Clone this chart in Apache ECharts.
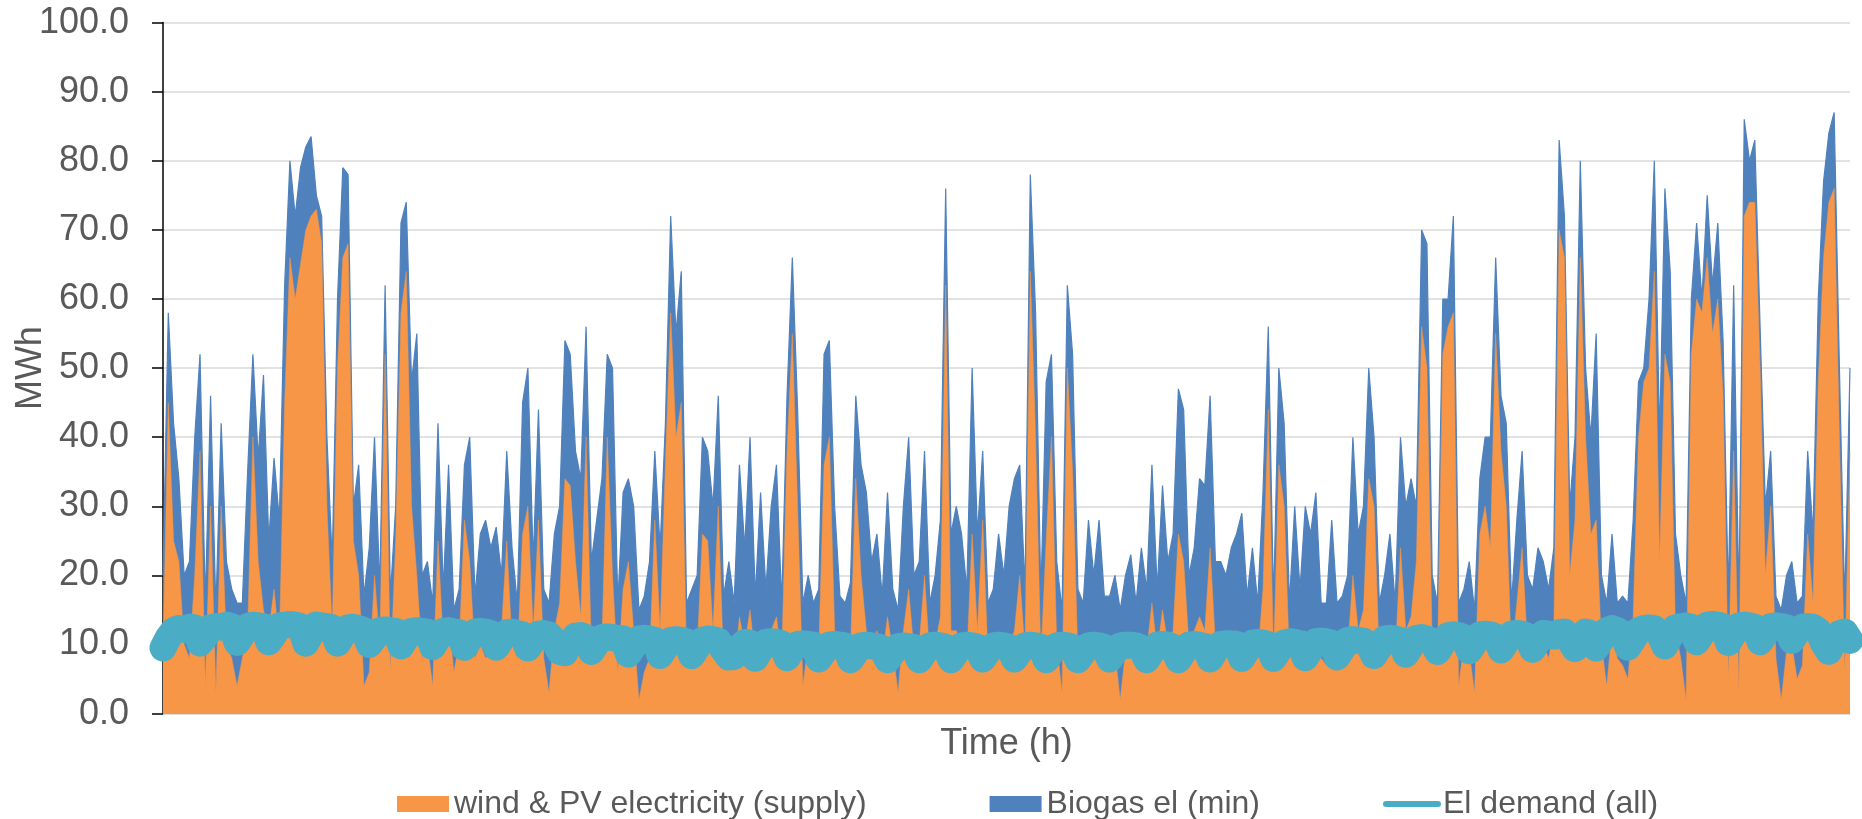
<!DOCTYPE html>
<html>
<head>
<meta charset="utf-8">
<script src="https://cdn.jsdelivr.net/npm/echarts@6/dist/echarts.min.js"></script>
<style>
html,body{margin:0;padding:0;background:#fff;}
#chart{width:1862px;height:819px;}
</style>
</head>
<body>
<div id="chart"></div>
<script>
// wind & PV electricity (supply), MWh – sampled roughly every ~27 h across the year
const supply = [
 9,45,25,22,10,8,20,38,4,30,3,30,10,8,4,8,12,40,22,15,12,18,10,45,66,60,65,70,72,73,68,30,12,50,66,68,25,20,4,6,
 20,10,52,6,25,58,64,30,20,8,10,4,25,10,14,6,10,28,22,8,10,8,9,10,12,25,10,8,26,30,12,28,8,3,12,16,34,33,22,14,
 40,9,12,10,40,20,6,18,22,12,2,6,8,28,12,36,58,40,45,8,8,9,26,25,12,30,7,10,6,14,10,15,8,12,8,12,14,8,38,55,
 30,4,10,8,9,36,40,12,8,6,9,34,20,12,10,12,8,14,9,3,12,18,9,10,20,8,10,14,62,12,12,10,8,26,12,28,8,9,10,9,
 10,12,20,9,64,40,8,25,40,10,3,50,35,8,6,10,9,10,8,9,9,2,9,10,8,10,9,16,9,15,10,12,26,22,10,12,14,12,24,10,
 10,10,10,12,10,8,10,8,18,44,8,36,30,8,12,9,12,10,12,8,7,10,8,8,9,20,12,15,34,30,8,9,12,8,24,12,14,22,56,50,
 10,8,52,56,58,4,10,9,3,26,30,24,55,38,30,8,16,24,10,9,12,10,8,12,70,66,20,28,66,40,26,28,10,4,12,8,7,5,14,40,
 48,50,64,22,52,48,12,8,2,52,60,58,66,55,60,46,5,38,3,72,74,74,50,20,30,8,2,9,10,5,7,26,16,48,66,74,76,40,6,38
];
// Biogas el (min): visible top of the blue area (supply + biogas), MWh
const biogasTop = [
 20,58,42,34,20,22,40,52,16,46,15,42,22,18,16,16,35,52,37,49,25,37,28,62,80,72,79,82,83.5,75,72,40,22,60,79,78,30,36,17,24,
 40,18,62,17,30,71,74,48,55,20,22,16,42,18,36,15,18,36,40,17,26,28,24,27,20,38,24,16,45,50,22,44,18,16,26,30,54,52,38,34,
 56,22,28,34,52,50,16,32,34,30,15,17,22,38,24,42,72,55,64,16,18,20,40,38,30,46,17,22,16,36,24,40,17,32,18,30,36,16,46,66,
 44,16,20,16,18,52,54,30,17,16,19,46,36,32,22,26,17,32,18,15,30,40,20,22,38,16,20,28,76,26,30,26,18,50,26,38,16,18,26,20,
 30,34,36,18,78,58,17,48,52,22,15,62,52,18,16,28,20,28,17,17,20,15,20,23,16,24,18,36,18,33,22,26,47,44,20,24,34,33,46,22,
 22,20,24,26,29,17,24,16,32,56,16,50,42,16,30,18,30,26,32,16,16,28,16,17,20,40,26,30,50,40,16,20,26,16,40,30,34,30,70,68,
 20,16,60,60,72,16,18,22,15,34,40,40,66,46,42,16,28,38,20,18,24,22,18,24,83,72,30,40,80,50,40,55,20,16,26,16,17,16,28,48,
 50,60,80,40,76,64,26,20,16,60,71,60,75,62,71,54,17,62,16,86,80,83,56,30,38,17,15,20,22,16,17,38,26,60,77,84,87,50,16,50
];
// El demand (all), MWh
const demand = [
 9.5,11,12,12.3,12.2,12.5,12.4,10.2,11.2,12.4,12.6,12.5,12.8,12.6,10.3,11.5,12.6,12.8,12.7,12.6,10.4,11.5,12.7,12.8,12.9,12.8,12.6,10.2,11.6,12.8,12.7,12.6,12.4,10.2,11.4,12.4,12.5,12.3,12.0,10.0,
 11.0,12.0,12.1,12.0,11.9,9.8,11.0,11.9,12.0,11.9,11.8,9.7,10.9,11.9,12.0,11.8,11.7,9.6,10.8,11.8,11.9,11.8,11.6,9.6,10.8,11.7,11.8,11.6,11.4,9.5,10.6,11.5,11.6,11.4,10.5,9.0,8.8,10.2,11.2,11.3,
 11.0,9.0,10.2,11.0,11.1,11.0,10.9,10.8,8.6,9.8,10.8,10.9,10.8,10.6,8.4,9.6,10.6,10.7,10.6,10.4,8.4,9.6,10.6,10.8,10.7,10.5,9.2,8.2,8.3,9.6,10.3,10.2,8.0,9.3,10.3,10.4,10.3,10.1,8.1,9.3,
 10.0,10.1,10.0,9.9,7.9,9.0,9.9,10.0,9.9,9.8,7.8,8.9,9.8,9.9,9.8,9.7,9.4,7.8,8.9,9.7,9.8,9.7,9.6,7.8,8.9,9.8,9.9,9.8,9.6,7.8,8.9,9.8,9.9,9.8,9.6,7.9,9.0,9.8,9.9,9.8,
 9.6,7.9,9.0,9.8,9.9,9.8,9.6,7.8,8.9,9.8,9.9,9.8,9.6,7.8,8.9,9.8,9.9,9.8,9.6,7.9,9.0,9.8,9.9,9.9,9.8,9.5,7.8,9.0,9.9,10.0,9.9,9.6,7.8,9.0,9.9,10.0,9.9,9.7,7.9,9.1,
 10.0,10.1,10.1,10.0,8.0,9.2,10.2,10.3,10.2,10.0,8.0,9.2,10.2,10.4,10.3,10.1,8.1,9.3,10.4,10.5,10.4,10.2,8.2,9.4,10.6,10.7,10.6,10.5,10.0,8.4,9.6,10.8,10.9,10.8,10.6,8.6,9.8,10.9,11.0,10.8,
 10.5,9.0,10.2,11.3,11.4,11.3,11.0,9.1,10.3,11.4,11.5,11.4,11.1,9.2,10.4,11.5,11.6,11.5,11.2,9.3,10.5,11.6,11.5,11.2,11.7,11.8,10.6,9.4,11.0,11.8,11.6,9.5,10.8,12.0,12.3,12.0,11.6,9.6,10.8,12.0,
 12.3,12.4,12.3,11.5,9.8,11.2,12.4,12.6,12.7,12.5,10.4,11.6,12.8,12.9,12.8,12.6,10.3,11.6,12.7,12.8,12.7,12.5,10.4,11.6,12.6,12.7,12.6,12.4,10.6,11.8,12.5,12.6,12.5,12.0,10.2,9.0,10.8,11.6,11.8,10.6
];
const yTicks = {min: 0, max: 100, interval: 10};
const names = ['wind & PV electricity (supply)', 'Biogas el (min)', 'El demand (all)'];
const timeIndex = supply.map((_, i) => i);

const ORANGE = '#F79646', BLUE = '#4F81BD', TEAL = '#4BACC6';
const FONT = 'Liberation Sans, Arial, sans-serif';

const chart = echarts.init(document.getElementById('chart'), null, {renderer: 'canvas'});
chart.setOption({
  animation: false,
  backgroundColor: '#fff',
  grid: {left: 163, right: 12, top: 22.6, bottom: 105.4, outerBoundsMode: 'none'},
  legend: {
    left: 397, top: 788, padding: 0,
    itemWidth: 52, itemHeight: 16, itemGap: 123,
    textStyle: {fontFamily: FONT, fontSize: 32, color: '#595959'},
    data: [
      {name: names[0], icon: 'rect'},
      {name: names[1], icon: 'rect'},
      {name: names[2], itemStyle: {opacity: 0}, lineStyle: {width: 6, cap: 'round', color: TEAL}}
    ]
  },
  xAxis: {
    type: 'category', data: timeIndex, boundaryGap: false,
    name: 'Time (h)', nameLocation: 'middle', nameGap: 12,
    nameTextStyle: {fontFamily: FONT, fontSize: 36, color: '#595959', verticalAlign: 'top'},
    axisLine: {show: true, lineStyle: {color: '#D9D9D9', width: 1.5}},
    axisTick: {show: false}, axisLabel: {show: false}, splitLine: {show: false}
  },
  yAxis: {
    type: 'value', min: yTicks.min, max: yTicks.max, interval: yTicks.interval,
    name: 'MWh', nameLocation: 'middle', nameGap: 114, nameRotate: 90, nameMoveOverlap: false,
    nameTextStyle: {fontFamily: FONT, fontSize: 36, color: '#595959'},
    axisLine: {show: true, lineStyle: {color: '#000', width: 1.5}},
    axisTick: {show: true, inside: false, length: 11, lineStyle: {color: '#000', width: 1.5}},
    axisLabel: {fontFamily: FONT, fontSize: 36, color: '#595959', margin: 34,
      formatter: v => v.toFixed(1)},
    splitLine: {show: true, lineStyle: {color: '#D9D9D9', width: 1.5}}
  },
  series: [
    {
      name: names[1], type: 'line', data: biogasTop, showSymbol: false, symbol: 'none',
      itemStyle: {color: BLUE},
      lineStyle: {color: BLUE, width: 1.2}, areaStyle: {color: BLUE, opacity: 1}, z: 2
    },
    {
      name: names[0], type: 'line', data: supply, showSymbol: false, symbol: 'none',
      itemStyle: {color: ORANGE},
      lineStyle: {color: ORANGE, width: 0.5}, areaStyle: {color: ORANGE, opacity: 1}, z: 3
    },
    {
      name: names[2], type: 'line', data: demand, showSymbol: false, symbol: 'none',
      itemStyle: {color: TEAL},
      lineStyle: {color: TEAL, width: 27, cap: 'round', join: 'round'}, z: 4
    }
  ]
});
</script>
</body>
</html>
